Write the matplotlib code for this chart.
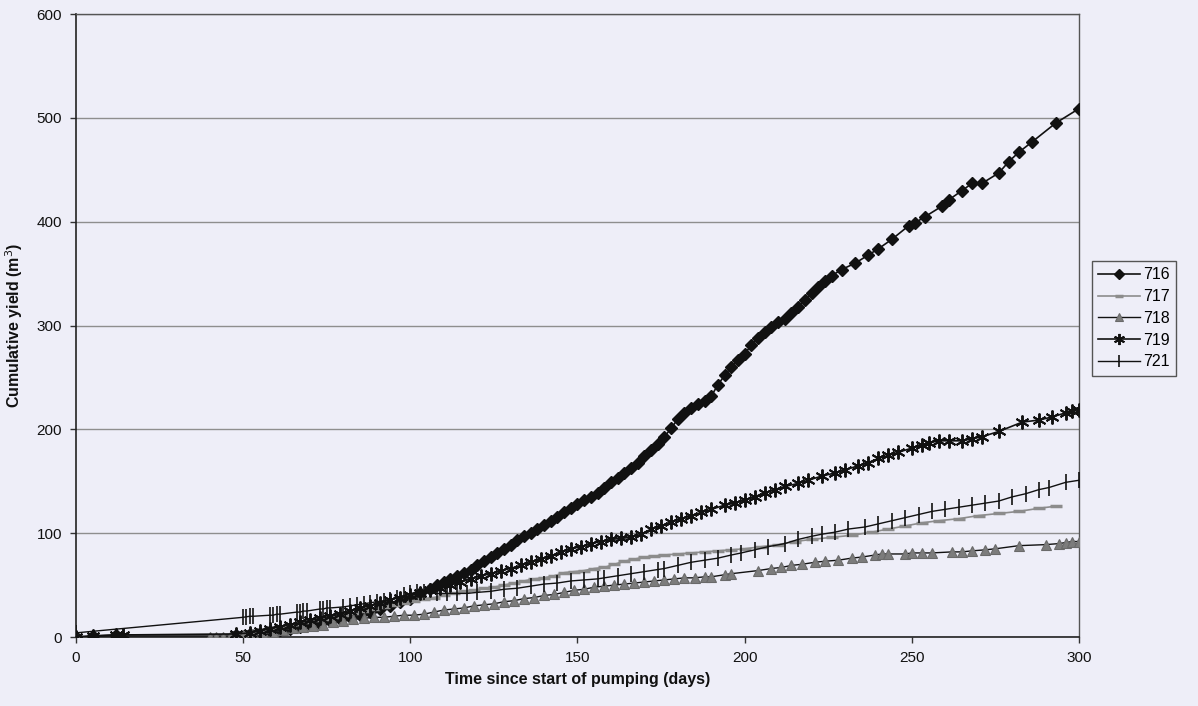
import matplotlib
matplotlib.use("Agg")
import matplotlib.pyplot as plt

plt.rcParams['font.family'] = ['Liberation Sans', 'DejaVu Sans']

# Cumulative yield (m3) per borehole against days since pumping began
days_716 = [0, 5, 12, 48, 52, 55, 58, 61, 64, 67, 70, 73, 76, 79, 82, 85, 88, 91, 94, 97,
            100, 103, 106, 108, 110, 112, 114, 116, 118, 120, 122, 124, 126, 128, 130, 132,
            134, 136, 138, 140, 142, 144, 146, 148, 150, 152, 154, 156, 158, 160, 162, 164,
            166, 168, 170, 172, 174, 176, 178, 180, 182, 184, 186, 188, 190, 192, 194, 196,
            198, 200, 202, 204, 206, 208, 210, 212, 214, 216, 218, 220, 222, 224, 226, 229,
            233, 237, 240, 244, 249, 251, 254, 259, 261, 265, 268, 271, 276, 279, 282, 286,
            293, 300]
yield_716 = [0, 1, 2, 2, 3, 4, 6, 7, 8, 10, 12, 13, 15, 17, 19, 21, 24, 27, 30, 34,
             37, 42, 46, 50, 53, 56, 59, 62, 65, 69, 73, 77, 81, 85, 89, 93,
             97, 100, 104, 108, 112, 116, 120, 124, 128, 132, 135, 139, 144, 149, 153, 158,
             163, 168, 174, 180, 186, 193, 201, 210, 216, 221, 224, 227, 232, 243, 252, 260,
             267, 273, 281, 288, 294, 299, 303, 306, 312, 318, 325, 331, 337, 343, 348, 354,
             360, 368, 374, 383, 396, 399, 405, 415, 421, 430, 437, 437, 447, 458, 467, 477,
             495, 509]

days_717 = [50, 53, 56, 59, 62, 65, 68, 71, 74, 77, 80, 83, 86, 89, 92, 95, 98, 101, 104,
            107, 110, 113, 116, 119, 122, 125, 128, 131, 134, 137, 140, 143, 146, 149, 152,
            155, 158, 161, 164, 167, 170, 173, 176, 180, 184, 188, 192, 196, 200, 205, 210,
            215, 220, 226, 232, 238, 243, 248, 253, 258, 264, 270, 276, 282, 288, 293]
yield_717 = [2, 4, 6, 8, 10, 12, 14, 16, 17, 19, 21, 23, 25, 27, 29, 31, 33, 35, 37,
             38, 40, 42, 44, 45, 47, 48, 50, 52, 54, 56, 57, 59, 62, 63, 64,
             66, 67, 70, 73, 75, 77, 78, 79, 80, 81, 82, 83, 84, 85, 87, 89,
             92, 94, 96, 98, 101, 104, 107, 110, 112, 114, 117, 119, 121, 124, 126]

days_718 = [0, 5, 40, 42, 44, 46, 48, 50, 53, 56, 59, 62, 65, 68, 71, 74, 77, 80, 83, 86,
            89, 92, 95, 98, 101, 104, 107, 110, 113, 116, 119, 122, 125, 128, 131, 134, 137,
            140, 143, 146, 149, 152, 155, 158, 161, 164, 167, 170, 173, 176, 179, 182, 185,
            188, 190, 194, 196, 204, 208, 211, 214, 217, 221, 224, 228, 232, 235, 239, 241,
            243, 248, 250, 253, 256, 262, 265, 268, 272, 275, 282, 290, 294, 296, 298, 300]
yield_718 = [0, 0, 0, 0, 0, 0, 1, 2, 3, 4, 5, 7, 9, 10, 11, 12, 14, 15, 17, 18,
             19, 19, 20, 21, 21, 22, 24, 26, 27, 28, 30, 31, 32, 34, 35, 37, 38,
             40, 41, 43, 45, 46, 48, 49, 50, 51, 52, 53, 54, 55, 56, 57, 57,
             58, 58, 60, 61, 64, 66, 67, 69, 70, 72, 73, 74, 76, 77, 79, 80,
             80, 80, 81, 81, 81, 82, 82, 83, 84, 85, 88, 89, 90, 91, 92, 92]

days_719 = [0, 5, 12, 14, 48, 52, 55, 58, 61, 64, 67, 70, 73, 76, 79, 82, 85, 88, 91, 94,
            97, 100, 103, 106, 109, 112, 115, 118, 121, 124, 127, 130, 133, 136, 139, 142,
            145, 148, 151, 154, 157, 160, 163, 166, 169, 172, 175, 178, 181, 184, 187, 190,
            194, 197, 200, 203, 206, 209, 212, 216, 219, 223, 227, 230, 234, 237, 240, 243,
            246, 250, 253, 255, 258, 261, 265, 268, 271, 276, 283, 288, 292, 296, 298, 300]
yield_719 = [0, 1, 2, 2, 3, 4, 6, 8, 10, 12, 14, 16, 18, 20, 22, 25, 28, 30, 33, 36,
             38, 40, 42, 45, 47, 50, 53, 56, 59, 61, 64, 66, 69, 72, 75, 78,
             82, 85, 87, 90, 92, 94, 95, 96, 99, 104, 107, 111, 114, 117, 120, 123,
             127, 129, 132, 135, 139, 142, 145, 148, 151, 155, 158, 161, 165, 168, 172, 175,
             178, 182, 185, 187, 189, 189, 189, 191, 193, 198, 207, 209, 212, 216, 218, 219]

days_721 = [0, 50, 51, 52, 53, 58, 59, 60, 61, 66, 67, 68, 69, 73, 74, 75, 76, 80, 82, 84,
            86, 88, 90, 92, 94, 96, 98, 100, 102, 104, 108, 111, 114, 117, 120, 124, 128,
            132, 136, 140, 144, 148, 152, 156, 158, 162, 166, 170, 174, 176, 180, 184, 188,
            192, 196, 199, 203, 207, 212, 216, 220, 223, 227, 231, 236, 240, 244, 248, 252,
            256, 260, 264, 268, 272, 276, 280, 284, 288, 291, 296, 300]
yield_721 = [4, 19, 19.5, 20, 20, 21, 21, 22, 22, 24, 24, 25, 25, 27, 27, 28, 28, 29, 30, 31,
             32, 33, 34, 35, 36, 38, 40, 42, 43, 43, 42, 42, 42, 42, 43, 44, 46,
             47, 49, 51, 52, 54, 55, 56, 57, 59, 61, 63, 65, 66, 69, 72, 74,
             76, 79, 81, 84, 87, 90, 94, 97, 99, 101, 104, 106, 109, 112, 115, 118,
             121, 123, 125, 127, 129, 131, 135, 138, 142, 144, 149, 151]

x_ticks = [0, 50, 100, 150, 200, 250, 300]
y_ticks = [0, 100, 200, 300, 400, 500, 600]

bg = '#eeeef8'
ink = '#111111'

fig = plt.figure(figsize=(11.98, 7.06), dpi=100, facecolor=bg)
ax = fig.add_axes([0.0634, 0.0977, 0.8373, 0.8823], facecolor=bg)

ax.plot(days_716, yield_716, color=ink, lw=1.2, marker='D', ms=6,
        mfc=ink, mec=ink, label='716', zorder=3)
ax.plot(days_717, yield_717, color='#8c8c8c', lw=1.2, marker='_', ms=8,
        mew=2.5, mec='#8c8c8c', label='717', zorder=3)
ax.plot(days_718, yield_718, color=ink, lw=1.0, marker='^', ms=7.5,
        mfc='#7c7c7c', mec='#6a6a6a', mew=0.8, label='718', zorder=3)
ax.plot(days_719, yield_719, color=ink, lw=1.2, marker=(6, 2, 0), ms=10,
        mec=ink, mew=1.4, label='719', zorder=3)
ax.plot(days_721, yield_721, color=ink, lw=1.0, marker='|', ms=11,
        mec=ink, mew=1.2, label='721', zorder=3)

ax.set_xlim(0, 300)
ax.set_ylim(0, 600)
ax.set_xticks(x_ticks)
ax.set_yticks(y_ticks)
ax.yaxis.grid(True, color='#8e8e8e', lw=1.0)
ax.set_axisbelow(True)

for side in ('left', 'bottom'):
    ax.spines[side].set_color('#222222')
    ax.spines[side].set_linewidth(1.2)
for side in ('top', 'right'):
    ax.spines[side].set_color('#555555')
    ax.spines[side].set_linewidth(1.0)

ax.tick_params(axis='both', direction='out', length=4, width=1, color='#333333',
               labelsize=11, labelcolor='#111111', pad=6)

ax.set_xlabel('Time since start of pumping (days)', fontsize=11.5,
              fontweight='bold', color='#111111', labelpad=5)
ax.set_ylabel('Cumulative yield (m$^3$)', fontsize=11.5,
              fontweight='bold', color='#111111', labelpad=8)

leg = fig.legend(loc='upper left', bbox_to_anchor=(0.9115, 0.6303),
                 fontsize=11.5, frameon=True, fancybox=False, framealpha=1,
                 edgecolor='#555555', facecolor=bg, handlelength=2.6,
                 handletextpad=0.2, labelspacing=0.42, borderpad=0.4,
                 borderaxespad=0, markerscale=0.8)
leg.get_frame().set_linewidth(1.0)

fig.savefig('out.png', dpi=100, facecolor=bg)
